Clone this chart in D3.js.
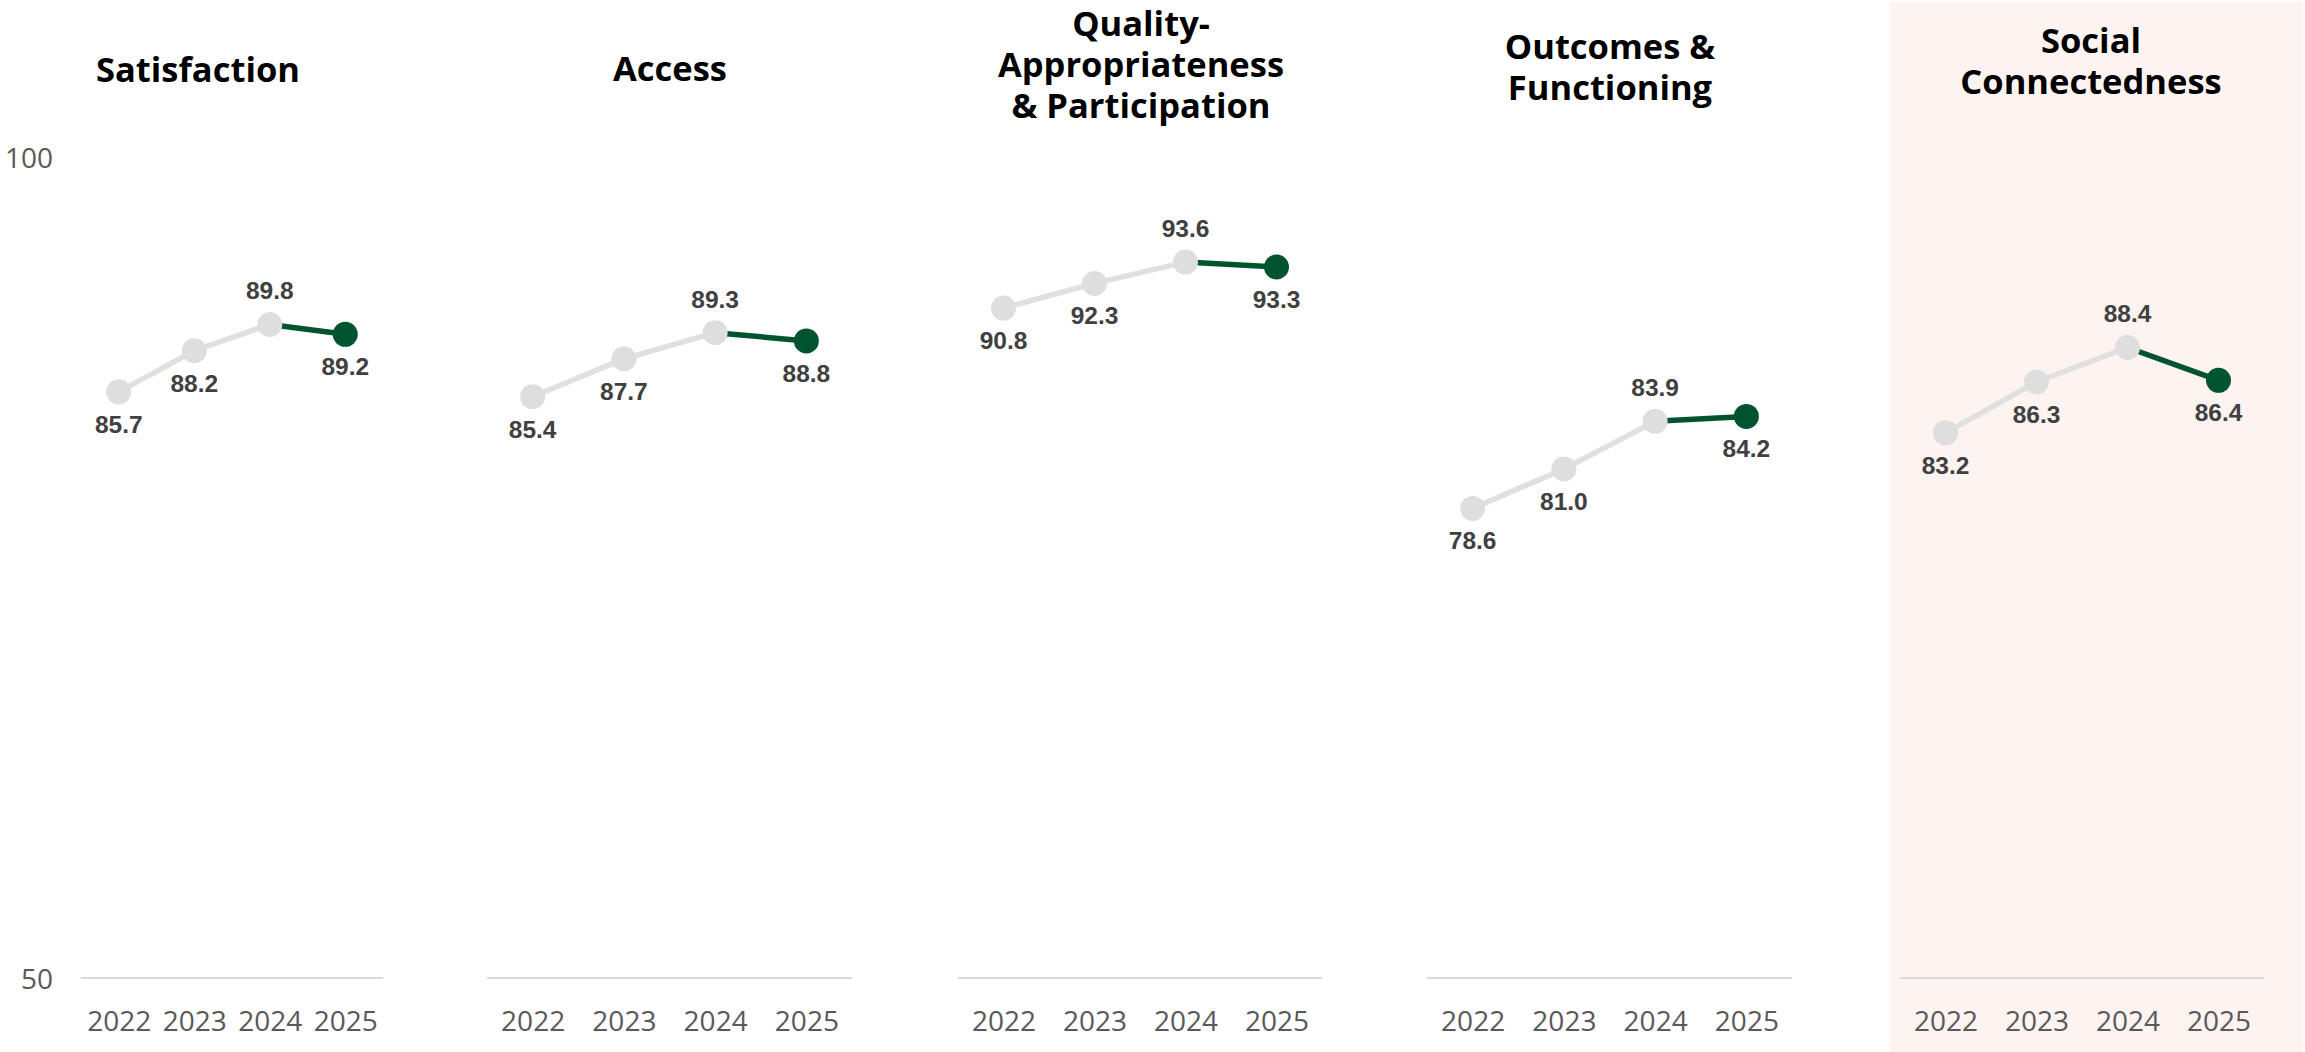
<!DOCTYPE html>
<html>
<head>
<meta charset="utf-8">
<script src="https://cdn.jsdelivr.net/npm/d3@7"></script>
<style>
  html, body { margin: 0; padding: 0; background: #ffffff; }
  svg { display: block; }
</style>
</head>
<body>
<svg id="chart" width="2305" height="1052"></svg>
<script>
// Survey domain scores by year
const years = ["2022", "2023", "2024", "2025"];
const domains = ["Satisfaction", "Access", "Quality-Appropriateness & Participation", "Outcomes & Functioning", "Social Connectedness"];
const titleLines = [
  ["Satisfaction"],
  ["Access"],
  ["Quality-", "Appropriateness", "& Participation"],
  ["Outcomes &", "Functioning"],
  ["Social", "Connectedness"]
];
const satisfaction = [85.7, 88.2, 89.8, 89.2];
const access = [85.4, 87.7, 89.3, 88.8];
const quality = [90.8, 92.3, 93.6, 93.3];
const outcomes = [78.6, 81.0, 83.9, 84.2];
const social = [83.2, 86.3, 88.4, 86.4];
const yTicks = [50, 100];
const highlighted = [false, false, false, false, true];

const series = [satisfaction, access, quality, outcomes, social];

// Layout of the small multiples
const plotLeft = [81, 487, 958, 1427, 1900];
const plotRight = [383, 852, 1322, 1792, 2264];
const titleX = [198, 670, 1141, 1610, 2091];
const titleFirstBaseline = [82, 81, 36, 59, 53];
const titleLineHeight = 41;

const GRAY = "#dedede";
const GRAY_LINE = "#e0e0e0";
const GREEN = "#00532f";
const LABEL = "#404040";
const AXIS_TEXT = "#595959";

const svg = d3.select("#chart");

const y = d3.scaleLinear().domain([50, 100]).range([978, 157]);

// Highlight band behind the emphasised panel
domains.forEach((d, i) => {
  if (!highlighted[i]) return;
  svg.append("rect")
    .attr("x", 1890).attr("y", 2)
    .attr("width", 2303 - 1890).attr("height", 1052 - 2)
    .attr("fill", "#fdf3f1");
});

// Shared value axis on the left
const yAxis = d3.axisLeft(y).tickValues(yTicks).tickSize(0).tickPadding(0);
const yg = svg.append("g").attr("transform", "translate(53,0)").call(yAxis);
yg.select(".domain").remove();
yg.selectAll("text")
  .attr("font-family", "'Open Sans', sans-serif")
  .attr("font-size", 28)
  .attr("fill", AXIS_TEXT)
  .attr("dy", "0.36em");

domains.forEach((name, i) => {
  const values = series[i];
  const x = d3.scalePoint().domain(years).range([plotLeft[i], plotRight[i]]).padding(0.5);
  const g = svg.append("g").attr("class", "panel");

  // Baseline at 50
  g.append("line")
    .attr("x1", plotLeft[i]).attr("x2", plotRight[i])
    .attr("y1", y(50)).attr("y2", y(50))
    .attr("stroke", "#d9d9d9").attr("stroke-width", 2);

  // Year axis
  const xAxis = d3.axisBottom(x).tickSize(0).tickPadding(0);
  const xg = g.append("g").attr("transform", `translate(0,${y(50)})`).call(xAxis);
  xg.select(".domain").remove();
  xg.selectAll("text")
    .attr("font-family", "'Open Sans', sans-serif")
    .attr("font-size", 28)
    .attr("fill", AXIS_TEXT)
    .attr("y", 53)
    .attr("dy", 0);

  // Title, one text element per line
  titleLines[i].forEach((line, k) => {
    g.append("text")
      .attr("class", "title")
      .attr("x", titleX[i])
      .attr("y", titleFirstBaseline[i] + k * titleLineHeight)
      .attr("text-anchor", "middle")
      .attr("font-family", "'Open Sans', sans-serif")
      .attr("font-weight", 700)
      .attr("font-size", 34.5)
      .attr("fill", "#000")
      .text(line);
  });

  const pts = years.map((yr, k) => ({ year: yr, value: values[k], k }));
  const line = d3.line().x(d => x(d.year)).y(d => y(d.value));

  // Earlier years in gray, latest change in green
  g.append("path")
    .datum(pts.slice(0, 3))
    .attr("d", line)
    .attr("fill", "none")
    .attr("stroke", GRAY_LINE)
    .attr("stroke-width", 5.5);
  g.append("path")
    .datum(pts.slice(2, 4))
    .attr("d", line)
    .attr("fill", "none")
    .attr("stroke", GREEN)
    .attr("stroke-width", 5.5);

  g.selectAll("circle.pt")
    .data(pts)
    .join("circle")
    .attr("class", "pt")
    .attr("cx", d => x(d.year))
    .attr("cy", d => y(d.value))
    .attr("r", 12.5)
    .attr("fill", d => d.k === 3 ? GREEN : GRAY);

  // Value labels: 2024 above, others below
  g.selectAll("text.val")
    .data(pts)
    .join("text")
    .attr("class", "val")
    .attr("x", d => x(d.year))
    .attr("y", d => y(d.value) + (d.k === 2 ? -25 : 41))
    .attr("text-anchor", "middle")
    .attr("font-family", "'Liberation Sans', Arial, sans-serif")
    .attr("font-weight", 700)
    .attr("font-size", 24.5)
    .attr("fill", LABEL)
    .text(d => d.value.toFixed(1));
});
</script>
</body>
</html>
